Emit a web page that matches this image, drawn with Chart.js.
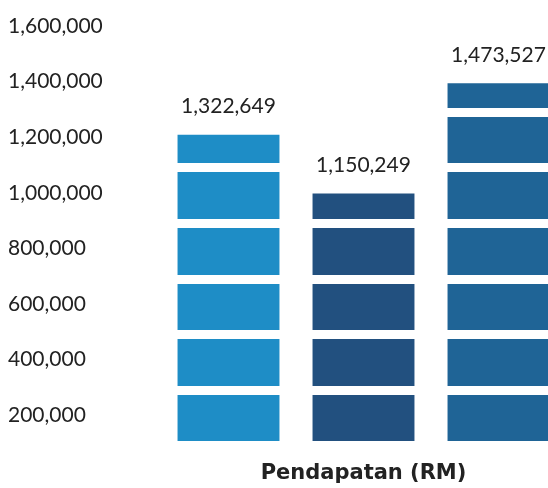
<!DOCTYPE html>
<html>
<head>
<meta charset="utf-8">
<script src="https://cdn.jsdelivr.net/npm/chart.js@4"></script>
<style>
  html, body { margin: 0; padding: 0; background: #fff; overflow: hidden; }
  #wrap { width: 548px; height: 488px; overflow: hidden; }
</style>
</head>
<body>
<div id="wrap"><canvas id="chart" width="566" height="488"></canvas></div>
<script>
const categories = ['A', 'B', 'C'];
const incomeValues = [1322649, 1150249, 1473527];
const barColors = ['#1E8DC6', '#22507F', '#1F6496'];
const yTicks = [0, 200000, 400000, 600000, 800000, 1000000, 1200000, 1400000, 1600000];

const FONT = 'Lato, "Open Sans", sans-serif';
const fmt = v => v.toLocaleString('en-US');

const valueLabels = {
  id: 'valueLabels',
  afterDraw(chart) {
    const ctx = chart.ctx;
    const meta = chart.getDatasetMeta(0);
    ctx.save();
    ctx.font = '21px ' + FONT;
    ctx.fillStyle = '#222';
    ctx.textAlign = 'center';
    ctx.textBaseline = 'middle';
    meta.data.forEach((bar, i) => {
      ctx.fillText(fmt(incomeValues[i]), bar.x, bar.y - 28);
    });
    ctx.restore();
  }
};

new Chart(document.getElementById('chart'), {
  type: 'bar',
  data: {
    labels: categories,
    datasets: [{
      data: incomeValues,
      backgroundColor: barColors,
      yAxisID: 'yBars',
      barPercentage: 0.755,
      categoryPercentage: 1
    }]
  },
  options: {
    responsive: false,
    animation: false,
    layout: { padding: { left: 8, top: 1, right: 0, bottom: 0 } },
    plugins: {
      legend: { display: false },
      tooltip: { enabled: false },
      title: {
        display: true,
        text: 'Pendapatan (RM)',
        position: 'bottom',
        fullSize: false,
        color: '#222',
        font: { family: '"DejaVu Sans", sans-serif', size: 21, weight: 'bold' },
        padding: { top: 15, bottom: 2 }
      }
    },
    scales: {
      x: { display: false },
      // visible axis: labels + white gaps drawn over the bars
      y: {
        position: 'left',
        min: 0,
        max: 1600000,
        afterBuildTicks: s => { s.ticks = yTicks.map(v => ({ value: v })); },
        afterFit: s => { s.width = 153; s.paddingTop = 0; s.paddingBottom = 0; },
        border: { display: false },
        grid: { color: '#fff', lineWidth: 9, drawTicks: false, z: 1 },
        ticks: {
          crossAlign: 'far',
          labelOffset: 25,
          color: '#222',
          font: { family: FONT, size: 21 },
          callback: v => v === 0 ? '' : fmt(v)
        }
      },
      yBars: {
        display: false,
        min: 410000,
        max: 1715000
      }
    }
  },
  plugins: [valueLabels]
});
</script>
</body>
</html>
